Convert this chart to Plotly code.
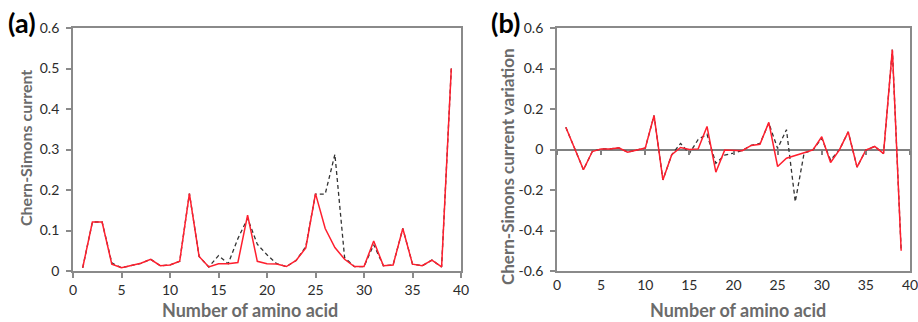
import plotly.graph_objects as go

# ---------------- data ----------------
amino = list(range(1, 40))

cs_red = [0.008, 0.121, 0.121, 0.017, 0.008, 0.014, 0.019, 0.029, 0.013, 0.015,
          0.024, 0.191, 0.036, 0.010, 0.018, 0.018, 0.021, 0.138, 0.024, 0.018,
          0.017, 0.011, 0.026, 0.057, 0.191, 0.105, 0.058, 0.029, 0.011, 0.011,
          0.074, 0.013, 0.015, 0.105, 0.017, 0.013, 0.027, 0.010, 0.500]

cs_dash = [0.008, 0.121, 0.121, 0.020, 0.008, 0.014, 0.019, 0.029, 0.013, 0.015,
           0.024, 0.191, 0.036, 0.010, 0.038, 0.018, 0.080, 0.130, 0.066, 0.040,
           0.018, 0.011, 0.026, 0.060, 0.190, 0.190, 0.288, 0.033, 0.011, 0.011,
           0.065, 0.013, 0.015, 0.105, 0.017, 0.013, 0.027, 0.010, 0.500]

var_red = [0.110, 0.000, -0.100, -0.010, 0.003, 0.003, 0.008, -0.013, -0.002, 0.007,
           0.168, -0.150, -0.026, 0.010, 0.000, 0.003, 0.114, -0.112, -0.003, -0.003,
           -0.006, 0.020, 0.026, 0.134, -0.084, -0.043, -0.028, -0.016, -0.002, 0.063,
           -0.064, -0.002, 0.087, -0.087, -0.003, 0.015, -0.020, 0.493, -0.500]

var_dash = [0.110, 0.000, -0.100, -0.010, 0.003, 0.003, 0.008, -0.013, -0.002, 0.007,
            0.168, -0.150, -0.026, 0.030, -0.020, 0.050, 0.075, -0.068, -0.028, -0.018,
            -0.004, 0.020, 0.030, 0.130, 0.005, 0.098, -0.258, -0.018, -0.002, 0.055,
            -0.052, -0.002, 0.087, -0.087, -0.003, 0.015, -0.020, 0.493, -0.500]

x_ticks = [0, 5, 10, 15, 20, 25, 30, 35, 40]
ya_ticks = [0, 0.1, 0.2, 0.3, 0.4, 0.5, 0.6]
yb_ticks = [-0.6, -0.4, -0.2, 0, 0.2, 0.4, 0.6]
yb_labels = ["-0.6", "-0.4", "-0.2", "0", "0.2", "0.4", "0.6"]

# ---------------- style ----------------
W, H = 918, 322
RED = "#ff1f2e"
DASH = "#333333"
AXC = "#8a8a8a"
TITLEC = "#6b6b6b"
TICKC = "#2b2b2b"
FONT = "Lato"

fig = go.Figure()

fig.add_trace(go.Scatter(x=amino, y=cs_dash, mode="lines",
                         line=dict(color=DASH, width=1.3, dash="4px,3px"),
                         xaxis="x", yaxis="y", showlegend=False))
fig.add_trace(go.Scatter(x=amino, y=cs_red, mode="lines",
                         line=dict(color=RED, width=1.5),
                         xaxis="x", yaxis="y", showlegend=False))
fig.add_trace(go.Scatter(x=amino, y=var_dash, mode="lines",
                         line=dict(color=DASH, width=1.3, dash="4px,3px"),
                         xaxis="x2", yaxis="y2", showlegend=False))
fig.add_trace(go.Scatter(x=amino, y=var_red, mode="lines",
                         line=dict(color=RED, width=1.5),
                         xaxis="x2", yaxis="y2", showlegend=False))
# empty trace to activate the zero-line tick axis of panel (b)
fig.add_trace(go.Scatter(x=[], y=[], xaxis="x3", yaxis="y2", showlegend=False))

dom_xa = [73 / W, 461 / W]
dom_xb = [557 / W, 910 / W]
dom_y = [1 - 271 / H, 1 - 28 / H]

tickfont = dict(family=FONT, size=14, color=TICKC)

common_x = dict(range=[0, 40], tickvals=x_ticks, showgrid=False, zeroline=False,
                showline=True, linecolor=AXC, linewidth=1.8, mirror=True,
                tickfont=tickfont, fixedrange=True, automargin=False,
                ticklabeloverflow="allow")

fig.update_layout(
    width=W, height=H,
    margin=dict(l=0, r=0, t=0, b=0, pad=0, autoexpand=False),
    paper_bgcolor="white", plot_bgcolor="white",
    xaxis=dict(domain=dom_xa, anchor="y", ticks="outside", ticklen=5,
               tickcolor=AXC, tickwidth=1.5, **common_x),
    yaxis=dict(domain=dom_y, anchor="x", range=[0, 0.6], tickvals=ya_ticks,
               showgrid=False, zeroline=False, showline=True, linecolor=AXC,
               linewidth=1.8, mirror=True, ticks="outside", ticklen=5,
               tickcolor=AXC, tickwidth=1.5, tickfont=tickfont, ticklabelstandoff=4,
               automargin=False, fixedrange=True),
    xaxis2=dict(domain=dom_xb, anchor="y2", ticks="", **common_x),
    yaxis2=dict(domain=dom_y, anchor="x2", range=[-0.6, 0.6], tickvals=yb_ticks,
                ticktext=yb_labels, showgrid=False, zeroline=True, zerolinecolor="#808080",
                zerolinewidth=2, showline=True, linecolor=AXC, linewidth=1.8, mirror=True,
                ticks="outside", ticklen=5, tickcolor=AXC, tickwidth=1.5,
                tickfont=tickfont, ticklabelstandoff=4, automargin=False, fixedrange=True),
    xaxis3=dict(domain=dom_xb, overlaying="x2", anchor="free",
                position=(dom_y[0] + dom_y[1]) / 2, range=[0, 40], tickvals=x_ticks,
                showticklabels=False, ticks="outside", ticklen=4, tickcolor="#808080",
                tickwidth=1.5, showline=False, showgrid=False, zeroline=False,
                fixedrange=True, automargin=False),
)

xtitlefont = dict(family=FONT, size=18, color=TITLEC, weight="bold")
ytitlefont_a = dict(family=FONT, size=16, color=TITLEC, weight="bold")
ytitlefont_b = dict(family=FONT, size=17, color=TITLEC, weight="bold")
ann = [
    dict(text="Number of amino acid", x=250 / W, y=1 - 310 / H, font=xtitlefont),
    dict(text="Number of amino acid", x=738 / W, y=1 - 310 / H, font=xtitlefont),
    dict(text="Chern-Simons current", x=25 / W, y=1 - 148 / H, textangle=-90,
         font=ytitlefont_a),
    dict(text="Chern-Simons current variation", x=507 / W, y=1 - 167 / H, textangle=-90,
         font=ytitlefont_b),
]
for a in ann:
    fig.add_annotation(xref="paper", yref="paper", xanchor="center", yanchor="middle",
                       showarrow=False, **a)

panelfont = dict(family=FONT, size=27, color="black", weight="bold")
fig.add_annotation(text="(a)", xref="paper", yref="paper", x=22 / W, y=1 - 22 / H,
                   xanchor="center", yanchor="middle", showarrow=False, font=panelfont)
fig.add_annotation(text="(b)", xref="paper", yref="paper", x=505 / W, y=1 - 22 / H,
                   xanchor="center", yanchor="middle", showarrow=False, font=panelfont)

fig.write_html("out.html", config={"displayModeBar": False},
               post_script="document.body.style.margin='0';document.body.style.overflow='hidden';")
